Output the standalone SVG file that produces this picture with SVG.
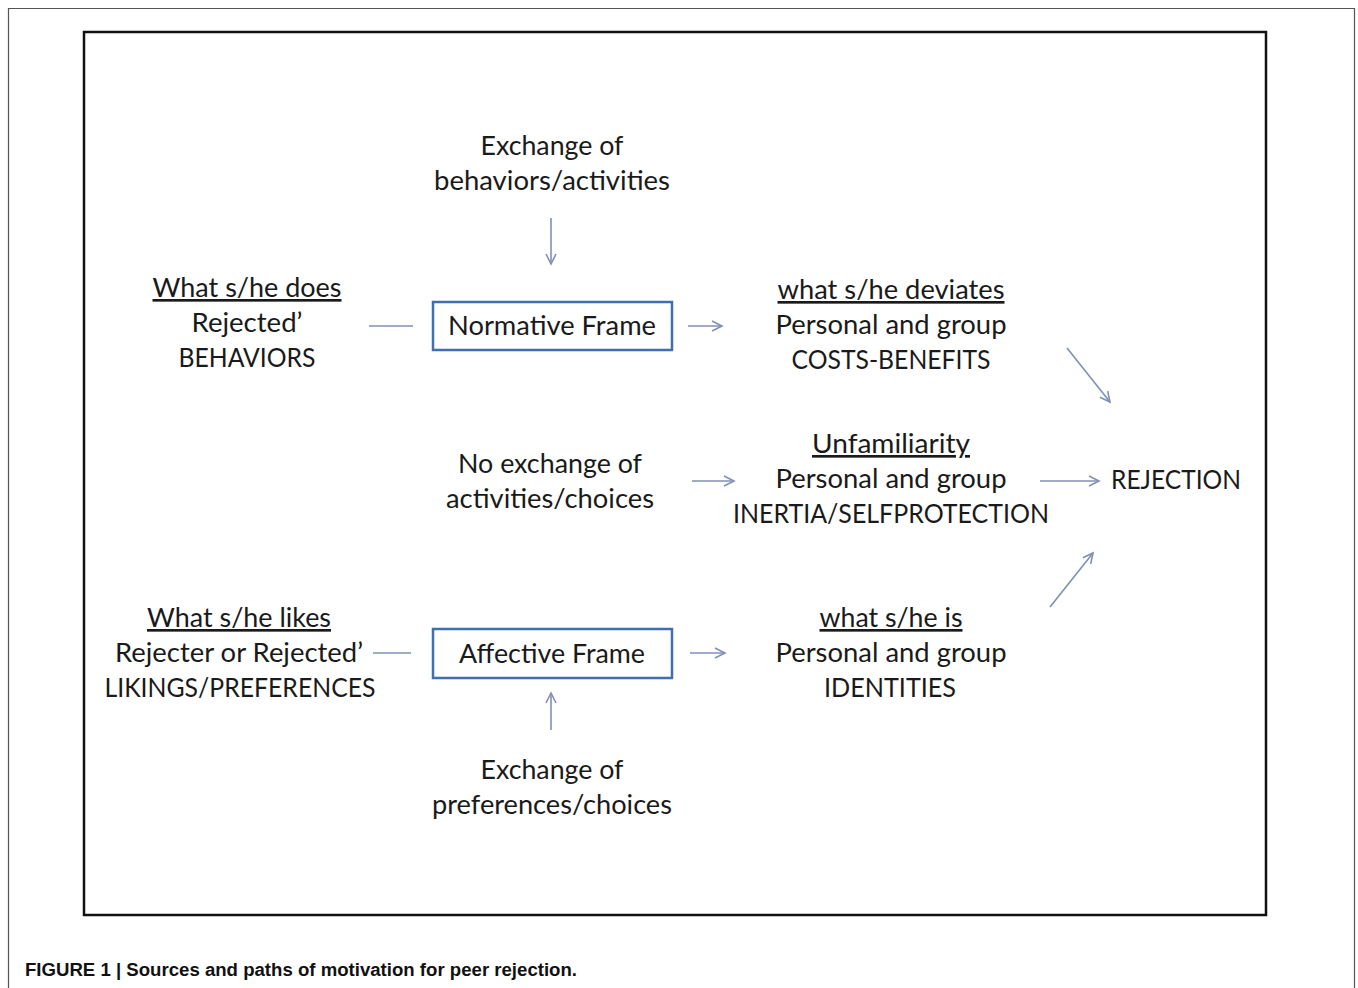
<svg xmlns="http://www.w3.org/2000/svg" width="1358" height="988" viewBox="0 0 1358 988">
<style>
.t{font-family:Lato,"Open Sans","Noto Sans",sans-serif;font-size:26.5px;fill:#1a1a1a;text-anchor:middle}
.u{text-decoration:underline}
.box{fill:#fff;stroke:#3f6fae;stroke-width:2.5}
.c{stroke:#8090b4;stroke-width:1.6;fill:none}
.cap{font-family:"Liberation Sans",Arial,sans-serif;font-weight:bold;font-size:18px;fill:#111}
</style>
<defs>
<marker id="ah" markerWidth="14" markerHeight="12" refX="11" refY="6" orient="auto" markerUnits="userSpaceOnUse">
<path d="M1,1 L11,6 L1,11" fill="none" stroke="#8090b4" stroke-width="1.6"/>
</marker>
</defs>
<rect x="0" y="0" width="1358" height="988" fill="#fff"/>
<path d="M8.5,996 V8.5 H1354.5 V996" fill="none" stroke="#555" stroke-width="1.2"/>
<rect x="84" y="32" width="1182" height="883" fill="none" stroke="#111" stroke-width="2.5"/>

<g id="exch-top"><text class="t" x="552" y="155" textLength="143" lengthAdjust="spacingAndGlyphs">Exchange of</text><text class="t" x="552" y="190" textLength="236" lengthAdjust="spacingAndGlyphs">behaviors/activities</text></g>
<g id="does"><text class="t u" x="247" y="297" textLength="189" lengthAdjust="spacingAndGlyphs">What s/he does</text><text class="t" x="247" y="332" textLength="111" lengthAdjust="spacingAndGlyphs">Rejected’</text><text class="t" x="247" y="367" textLength="137" lengthAdjust="spacingAndGlyphs">BEHAVIORS</text></g>
<g id="normative"><rect class="box" x="433" y="302" width="239" height="48"/><text class="t" x="552" y="335" textLength="208" lengthAdjust="spacingAndGlyphs">Normative Frame</text></g>
<g id="deviates"><text class="t u" x="891" y="299" textLength="227" lengthAdjust="spacingAndGlyphs">what s/he deviates</text><text class="t" x="891" y="334" textLength="231" lengthAdjust="spacingAndGlyphs">Personal and group</text><text class="t" x="891" y="369" textLength="199" lengthAdjust="spacingAndGlyphs">COSTS-BENEFITS</text></g>
<g id="noexch"><text class="t" x="550" y="473" textLength="184" lengthAdjust="spacingAndGlyphs">No exchange of</text><text class="t" x="550" y="508" textLength="208" lengthAdjust="spacingAndGlyphs">activities/choices</text></g>
<g id="unfam"><text class="t u" x="891" y="453" textLength="158" lengthAdjust="spacingAndGlyphs">Unfamiliarity</text><text class="t" x="891" y="488" textLength="231" lengthAdjust="spacingAndGlyphs">Personal and group</text><text class="t" x="891" y="523" textLength="316" lengthAdjust="spacingAndGlyphs">INERTIA/SELFPROTECTION</text></g>
<g id="rejection"><text class="t" x="1176" y="489" textLength="130" lengthAdjust="spacingAndGlyphs">REJECTION</text></g>
<g id="likes"><text class="t u" x="239" y="627" textLength="184" lengthAdjust="spacingAndGlyphs">What s/he likes</text><text class="t" x="239" y="662" textLength="248" lengthAdjust="spacingAndGlyphs">Rejecter or Rejected’</text><text class="t" x="240" y="697" textLength="271" lengthAdjust="spacingAndGlyphs">LIKINGS/PREFERENCES</text></g>
<g id="affective"><rect class="box" x="433" y="629" width="239" height="49"/><text class="t" x="552" y="663" textLength="186" lengthAdjust="spacingAndGlyphs">Affective Frame</text></g>
<g id="is"><text class="t u" x="891" y="627" textLength="143" lengthAdjust="spacingAndGlyphs">what s/he is</text><text class="t" x="891" y="662" textLength="231" lengthAdjust="spacingAndGlyphs">Personal and group</text><text class="t" x="890" y="697" textLength="132" lengthAdjust="spacingAndGlyphs">IDENTITIES</text></g>
<g id="exch-bot"><text class="t" x="552" y="779" textLength="143" lengthAdjust="spacingAndGlyphs">Exchange of</text><text class="t" x="552" y="814" textLength="240" lengthAdjust="spacingAndGlyphs">preferences/choices</text></g>

<g id="connectors">
<line class="c" x1="551" y1="218" x2="551" y2="264" marker-end="url(#ah)"/>
<line class="c" x1="369" y1="326" x2="413" y2="326"/>
<line class="c" x1="688" y1="326" x2="722" y2="326" marker-end="url(#ah)"/>
<line class="c" x1="1067" y1="348" x2="1110" y2="402" marker-end="url(#ah)"/>
<line class="c" x1="692" y1="481" x2="734" y2="481" marker-end="url(#ah)"/>
<line class="c" x1="1040" y1="481" x2="1099" y2="481" marker-end="url(#ah)"/>
<line class="c" x1="1050" y1="607" x2="1093" y2="553" marker-end="url(#ah)"/>
<line class="c" x1="373" y1="653" x2="411" y2="653"/>
<line class="c" x1="690" y1="653" x2="725" y2="653" marker-end="url(#ah)"/>
<line class="c" x1="551" y1="730" x2="551" y2="693" marker-end="url(#ah)"/>
</g>

<text class="cap" x="25" y="976" textLength="552" lengthAdjust="spacingAndGlyphs">FIGURE 1 | Sources and paths of motivation for peer rejection.</text>
</svg>
